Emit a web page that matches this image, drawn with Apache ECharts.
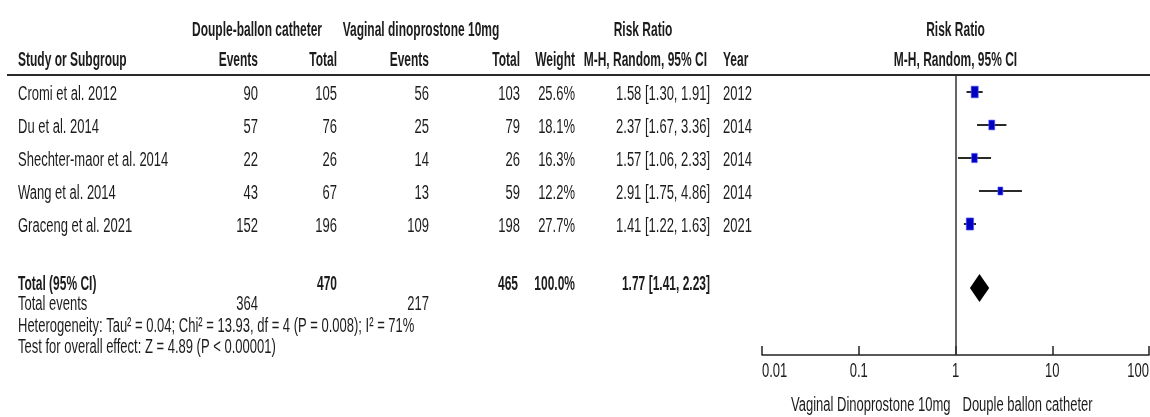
<!DOCTYPE html>
<html>
<head>
<meta charset="utf-8">
<script src="https://cdn.jsdelivr.net/npm/echarts@6/dist/echarts.min.js"></script>
<style>
  html, body { margin: 0; padding: 0; background: #fff; }
  #chart { width: 1150px; height: 417px; }
</style>
</head>
<body>
<div id="chart"></div>
<script>
// Study-level data
const studies = ['Cromi et al. 2012', 'Du et al. 2014', 'Shechter-maor et al. 2014', 'Wang et al. 2014', 'Graceng et al. 2021'];
const balloonEvents = [90, 57, 22, 43, 152];
const balloonTotal = [105, 76, 26, 67, 196];
const dinoEvents = [56, 25, 14, 13, 109];
const dinoTotal = [103, 79, 26, 59, 198];
const weights = [25.6, 18.1, 16.3, 12.2, 27.7];
const riskRatio = [1.58, 2.37, 1.57, 2.91, 1.41];
const ciLow = [1.30, 1.67, 1.06, 1.75, 1.22];
const ciHigh = [1.91, 3.36, 2.33, 4.86, 1.63];
const years = [2012, 2014, 2014, 2014, 2021];

// Pooled estimate: [risk ratio, lower, upper]
const pooled = [1.77, 1.41, 2.23];
const pooledWeight = 100.0;
const groupTotals = [470, 465];
const groupEvents = [364, 217];

// Log axis ticks
const xTicks = [0.01, 0.1, 1, 10, 100];

const heterogeneity = 'Heterogeneity: Tau\u00b2 = 0.04; Chi\u00b2 = 13.93, df = 4 (P = 0.008); I\u00b2 = 71%';
const overallEffect = 'Test for overall effect: Z = 4.89 (P < 0.00001)';

const POOLED_ROW = 5.94;
const FONT = '"Liberation Sans", Arial, sans-serif';
const FS = 20;
const SX = 0.65;      // condensed look for regular text
const SX_BOLD = 0.6;  // condensed look for bold text
const INK = '#1c1c1c';

const chart = echarts.init(document.getElementById('chart'), null, { renderer: 'canvas' });

const studyData = studies.map((s, i) => [riskRatio[i], i, ciLow[i], ciHigh[i], weights[i]]);

chart.setOption({
  animation: false,
  backgroundColor: '#fff',
  grid: { left: 762, right: 1, top: 75, bottom: 62, containLabel: false },
  xAxis: {
    type: 'log', logBase: 10, min: 0.01, max: 100,
    position: 'bottom',
    axisLine: { onZero: false, lineStyle: { color: '#222', width: 1.5 } },
    axisTick: { inside: true, length: 9, lineStyle: { color: '#222', width: 1.5 } },
    axisLabel: { show: false },
    splitLine: { show: false }
  },
  yAxis: {
    type: 'value', min: -0.515, max: 7.97, inverse: true, show: false
  },
  series: [
    {
      type: 'custom',
      name: 'studies',
      data: studyData,
      renderItem: function (params, api) {
        const c = api.coord([api.value(0), api.value(1)]);
        const l = api.coord([api.value(2), api.value(1)]);
        const h = api.coord([api.value(3), api.value(1)]);
        const w = Math.sqrt(api.value(4));
        const bw = 1.4 * w, bh = 2.3 * w;
        return {
          type: 'group',
          children: [
            { type: 'line', shape: { x1: l[0], y1: l[1], x2: h[0], y2: h[1] },
              style: { stroke: '#2a2a2a', lineWidth: 2 } },
            { type: 'rect', shape: { x: c[0] - bw / 2, y: c[1] - bh / 2, width: bw, height: bh },
              style: { fill: '#0000c4', stroke: '#5a5aff', lineWidth: 0.6 } }
          ]
        };
      },
      markLine: {
        silent: true, symbol: 'none', animation: false,
        label: { show: false },
        lineStyle: { color: '#333', width: 1.5, type: 'solid' },
        data: [{ xAxis: 1 }]
      },
      z: 3
    },
    {
      type: 'custom',
      name: 'pooled',
      data: [[pooled[0], POOLED_ROW, pooled[1], pooled[2]]],
      renderItem: function (params, api) {
        const c = api.coord([api.value(0), api.value(1)]);
        const l = api.coord([api.value(2), api.value(1)]);
        const h = api.coord([api.value(3), api.value(1)]);
        const hh = 14;
        return {
          type: 'polygon',
          shape: { points: [[l[0], c[1]], [c[0], c[1] - hh], [h[0], c[1]], [c[0], c[1] + hh]] },
          style: { fill: '#000' }
        };
      },
      z: 3
    }
  ]
});

// Table text
function txt(s, x, y, align, bold) {
  return {
    type: 'text', x: x, y: y, scaleX: bold ? SX_BOLD : SX, silent: true,
    style: {
      text: s, fill: INK,
      fontFamily: FONT, fontSize: FS, fontWeight: bold ? 'bold' : 'normal',
      textAlign: align, textVerticalAlign: 'middle'
    }
  };
}
const rowY = (r) => chart.convertToPixel({ gridIndex: 0 }, [1, r])[1];
const colX = (v) => chart.convertToPixel({ gridIndex: 0 }, [v, 0])[0];

const g = [];
// header rule
g.push({ type: 'line', silent: true, shape: { x1: 7, y1: 75, x2: 1150, y2: 75 }, style: { stroke: '#2a2a2a', lineWidth: 2 } });

// group headers
g.push(txt('Douple-ballon catheter', 257, 30, 'center', true));
g.push(txt('Vaginal dinoprostone 10mg', 421, 30, 'center', true));
g.push(txt('Risk Ratio', 643, 30, 'center', true));
g.push(txt('Risk Ratio', colX(1), 30, 'center', true));

// column headers
g.push(txt('Study or Subgroup', 18, 60, 'left', true));
g.push(txt('Events', 258, 60, 'right', true));
g.push(txt('Total', 337, 60, 'right', true));
g.push(txt('Events', 429, 60, 'right', true));
g.push(txt('Total', 520, 60, 'right', true));
g.push(txt('Weight', 575, 60, 'right', true));
g.push(txt('M-H, Random, 95% CI', 707, 60, 'right', true));
g.push(txt('Year', 723, 60, 'left', true));
g.push(txt('M-H, Random, 95% CI', colX(1), 60, 'center', true));

const ci = (a, b, c) => a.toFixed(2) + ' [' + b.toFixed(2) + ', ' + c.toFixed(2) + ']';

studies.forEach((s, i) => {
  const y = rowY(i) + 2;
  g.push(txt(s, 18, y, 'left'));
  g.push(txt(String(balloonEvents[i]), 258, y, 'right'));
  g.push(txt(String(balloonTotal[i]), 337, y, 'right'));
  g.push(txt(String(dinoEvents[i]), 429, y, 'right'));
  g.push(txt(String(dinoTotal[i]), 520, y, 'right'));
  g.push(txt(weights[i].toFixed(1) + '%', 575, y, 'right'));
  g.push(txt(ci(riskRatio[i], ciLow[i], ciHigh[i]), 710, y, 'right'));
  g.push(txt(String(years[i]), 723, y, 'left'));
});

// pooled row
const yt = rowY(POOLED_ROW) - 4;
g.push(txt('Total (95% CI)', 18, yt, 'left', true));
g.push(txt(String(groupTotals[0]), 337, yt, 'right', true));
g.push(txt(String(groupTotals[1]), 518, yt, 'right', true));
g.push(txt(pooledWeight.toFixed(1) + '%', 575, yt, 'right', true));
g.push(txt(ci(pooled[0], pooled[1], pooled[2]), 710, yt, 'right', true));

g.push(txt('Total events', 18, 304, 'left'));
g.push(txt(String(groupEvents[0]), 258, 304, 'right'));
g.push(txt(String(groupEvents[1]), 429, 304, 'right'));
g.push(txt(heterogeneity, 18, 326, 'left'));
g.push(txt(overallEffect, 18, 347, 'left'));

// axis tick labels
xTicks.forEach((t, i) => {
  const align = i === 0 ? 'left' : (i === xTicks.length - 1 ? 'right' : 'center');
  g.push(txt(String(t), colX(t), 371, align, false));
});

// favours labels
g.push(txt('Vaginal Dinoprostone 10mg', colX(1) - 5, 405, 'right'));
g.push(txt('Douple ballon catheter', colX(1) + 7, 405, 'left'));

chart.setOption({ graphic: { elements: g } });
</script>
</body>
</html>
